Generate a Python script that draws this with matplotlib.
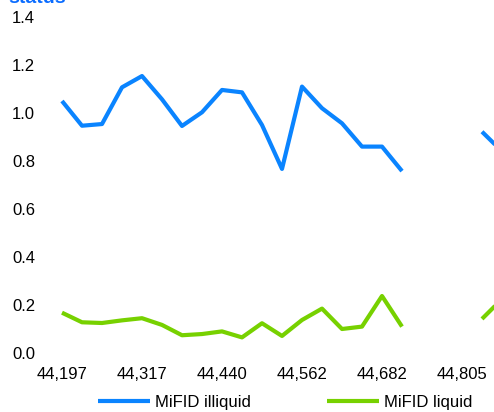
import numpy as np
import matplotlib
matplotlib.use('Agg')
import matplotlib.pyplot as plt

plt.rcParams['font.family'] = ['Liberation Sans', 'DejaVu Sans']

# excel date serials, monthly
dates = [44197, 44228, 44256, 44287, 44317, 44348, 44378, 44409, 44440, 44470,
         44501, 44531, 44562, 44593, 44621, 44652, 44682, 44713, 44743, 44774,
         44805, 44835, 44866]
nan = np.nan
illiquid = [1.05, 0.947, 0.954, 1.107, 1.154, 1.057, 0.946, 1.003, 1.096, 1.086,
            0.95, 0.767, 1.11, 1.02, 0.957, 0.86, 0.86, 0.758, nan, nan,
            nan, 0.922, 0.84]
liquid = [0.168, 0.128, 0.125, 0.136, 0.145, 0.117, 0.074, 0.079, 0.09, 0.065,
          0.124, 0.071, 0.1375, 0.185, 0.10, 0.11, 0.2375, 0.11, nan, nan,
          nan, 0.142, 0.225]
tick_every = 4

W, H = 494, 412
fig = plt.figure(figsize=(W / 100, H / 100), dpi=100)
ax = fig.add_axes([42 / W, (H - 353) / H, (494 - 42) / W, (353 - 17) / H])

x = np.arange(len(dates))
ax.plot(x, illiquid, color='#0A84FF', lw=3, label='MiFID illiquid', solid_capstyle='butt')
ax.plot(x, liquid, color='#77D100', lw=3, label='MiFID liquid', solid_capstyle='butt')

ax.set_xlim(-1.0, 21.6)
ax.set_ylim(0, 1.4)
ax.set_yticks(np.arange(0, 1.41, 0.2))
ax.set_yticklabels(['%.1f' % v for v in np.arange(0, 1.41, 0.2)], fontsize=12)
ax.set_xticks(x[::tick_every])
ax.set_xticklabels(['{:,}'.format(d) for d in dates[::tick_every]], fontsize=12)
ax.tick_params(length=0)
ax.tick_params(axis='x', pad=10)
ax.tick_params(axis='y', pad=5)
for s in ax.spines.values():
    s.set_visible(False)

fig.legend(loc='center', bbox_to_anchor=(285 / W, 1 - 402 / H), ncol=2, frameon=False,
           fontsize=12, handlelength=3.1, handletextpad=0.3, columnspacing=4.6)

fig.text(8 / W, 1 - 3 / H, 'status', color='#0A6CFF', fontsize=14, fontweight='bold',
         va='baseline', ha='left')

fig.savefig('out.png', dpi=100)
